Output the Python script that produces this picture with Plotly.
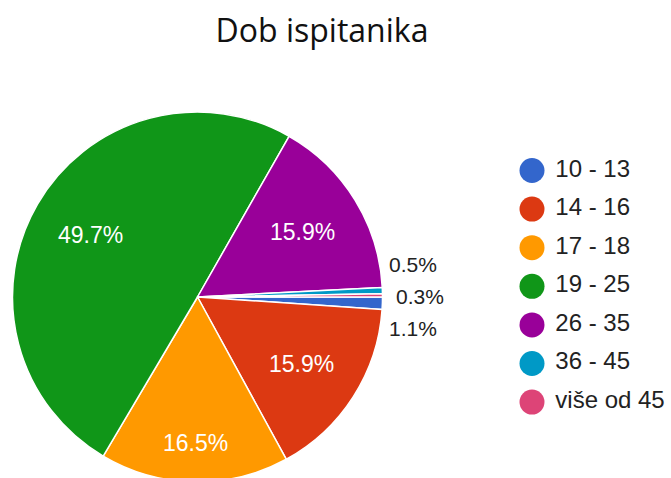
import math
import plotly.graph_objects as go

title = "Dob ispitanika"
categories = ["10 - 13", "14 - 16", "17 - 18", "19 - 25", "26 - 35", "36 - 45", "više od 45"]
counts = [4, 59, 61, 184, 59, 2, 1]
colors = ["#3366cc", "#dc3912", "#ff9900", "#109618", "#990099", "#0099c6", "#dd4477"]

W, H = 671, 482   # page window is 478 tall; the pie's bottom edge runs just past it
FONT = "Liberation Sans"

def fy(px_from_top):
    return 1 - px_from_top / H

# pie placement (paper fractions)
pie_dom_x = [12.5 / W, 382.5 / W]
pie_dom_y = [0.0, 370 / H]

total = sum(counts)
shares = [c / total for c in counts]

fig = go.Figure()
fig.add_trace(go.Pie(
    labels=categories,
    values=counts,
    sort=False,
    direction="clockwise",
    rotation=90,
    marker=dict(colors=colors, line=dict(color="white", width=1.5)),
    textinfo="none",
    showlegend=False,
    hoverinfo="label+percent",
    domain=dict(x=pie_dom_x, y=pie_dom_y),
))

# percentage labels, positioned from the slice angles
cx = (pie_dom_x[0] + pie_dom_x[1]) / 2 * W
cy = (1 - (pie_dom_y[0] + pie_dom_y[1]) / 2) * H
r = min((pie_dom_x[1] - pie_dom_x[0]) * W, (pie_dom_y[1] - pie_dom_y[0]) * H) / 2

annotations = []
small = []
cum = 0.0
for i, s in enumerate(shares):
    mid = (cum + s / 2) * 2 * math.pi  # clockwise from 3 o'clock
    cum += s
    txt = f"{s * 100:.1f}%"
    if s > 0.05:
        hw, hh = 33, 12
        d = 0.855 * r - (hw * abs(math.cos(mid)) + hh * abs(math.sin(mid)))
        px = cx + d * math.cos(mid)
        py = cy + d * math.sin(mid)
        annotations.append(dict(
            x=px / W, y=fy(py), xref="paper", yref="paper",
            text=txt, showarrow=False, xanchor="center", yanchor="middle",
            font=dict(color="white", size=23, family=FONT)))
    else:
        small.append((math.sin(mid if mid < math.pi else mid - 2 * math.pi), txt))

small.sort()
k = len(small)
for j, (_, txt) in enumerate(small):
    py = cy - 1 + (j - (k - 1) / 2) * 32
    px = cx + r + 4 + (7 if j == 1 else 0)
    annotations.append(dict(
        x=px / W, y=fy(py), xref="paper", yref="paper",
        text=txt, showarrow=False, xanchor="left", yanchor="middle",
        font=dict(color="#222222", size=21, family=FONT)))

# legend drawn as markers + labels on a hidden axis
n = len(categories)
fig.add_trace(go.Scatter(
    x=[0] * n,
    y=list(range(n)),
    mode="markers+text",
    marker=dict(color=colors, size=25, symbol="circle", line=dict(width=0)),
    text=[" " + c for c in categories],
    textposition="middle right",
    textfont=dict(size=24, color="#222222", family=FONT),
    showlegend=False,
    hoverinfo="skip",
    cliponaxis=False,
    xaxis="x", yaxis="y",
))

row0, row_gap = 170.5, 38.6
fig.update_layout(
    width=W, height=H,
    margin=dict(l=0, r=0, t=0, b=0),
    paper_bgcolor="white", plot_bgcolor="rgba(0,0,0,0)",
    title=dict(text=title, x=322 / W, xanchor="center", y=fy(31), yanchor="middle",
               font=dict(size=32, color="#111111", family="Open Sans")),
    xaxis=dict(domain=[532 / W, 1.0], range=[0, 1], visible=False, fixedrange=True),
    yaxis=dict(domain=[fy(row0 + (n - 0.5) * row_gap), fy(row0 - 0.5 * row_gap)],
               range=[n - 0.5, -0.5], visible=False, fixedrange=True),
    annotations=annotations,
)

fig.write_html(
    "out.html",
    config={"displayModeBar": False},
    post_script=("document.body.style.margin='0';"
                 "document.body.style.overflow='hidden';"
                 "document.documentElement.style.overflow='hidden';"),
)
